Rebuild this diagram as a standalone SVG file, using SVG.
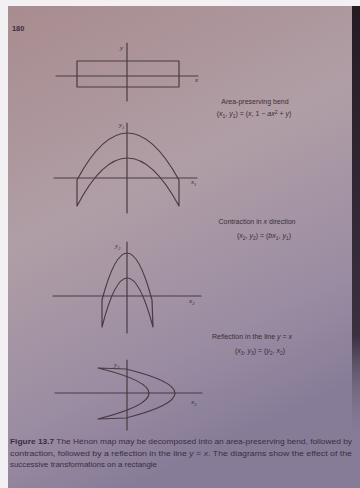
<svg xmlns="http://www.w3.org/2000/svg" width="360" height="488" viewBox="0 0 360 488">
<defs>
<linearGradient id="pg" x1="0" y1="0" x2="0.35" y2="1">
<stop offset="0" stop-color="#a88c8f"/>
<stop offset="0.45" stop-color="#b09ea6"/>
<stop offset="0.8" stop-color="#9a8ca2"/>
<stop offset="1" stop-color="#877c98"/>
</linearGradient>
<linearGradient id="rs" x1="0" y1="0" x2="0" y2="1">
<stop offset="0" stop-color="#251c22"/>
<stop offset="0.75" stop-color="#3a3040"/>
<stop offset="1" stop-color="#8a7f98" stop-opacity="0"/>
</linearGradient>
<style>
.ln{fill:none;stroke:#4a3a42;stroke-width:1.2;stroke-linecap:round;stroke-linejoin:round}
.t{font-family:"Liberation Sans",Arial,sans-serif;font-size:7px;fill:#3a2e36;text-anchor:middle}
.m{font-family:"Liberation Serif","Times New Roman",serif;font-style:italic;font-size:7px;fill:#3a2e36}
.c{font-family:"Liberation Sans",Arial,sans-serif;font-size:7.4px;fill:#3a2e40}
.s{font-size:5px}
</style>
</defs>
<rect x="0" y="0" width="360" height="488" fill="#f2f0f2"/>
<rect x="8" y="6" width="352" height="482" fill="url(#pg)"/>
<rect x="352" y="6" width="8" height="440" fill="url(#rs)"/>
<text x="12" y="31" class="c" font-weight="bold" font-size="6">180</text>

<g id="panel0">
<line class="ln" x1="56" y1="76" x2="198" y2="76"/>
<line class="ln" x1="127" y1="43" x2="127" y2="101"/>
<rect class="ln" x="77" y="61" width="102" height="26"/>
<text class="m" x="120" y="50">y</text>
<text class="m" x="195" y="82">x</text>
</g>
<g id="label1">
<text class="t" x="255" y="104">Area-preserving bend</text>
<text class="t" x="254" y="116">(<tspan font-style="italic">x</tspan><tspan class="s" dy="1.5">1</tspan><tspan dy="-1.5">, </tspan><tspan font-style="italic">y</tspan><tspan class="s" dy="1.5">1</tspan><tspan dy="-1.5">) = (</tspan><tspan font-style="italic">x</tspan>, 1 − <tspan font-style="italic">ax</tspan><tspan class="s" dy="-2.5">2</tspan><tspan dy="2.5"> + </tspan><tspan font-style="italic">y</tspan>)</text>
</g>

<g id="panel1">
<line class="ln" x1="54" y1="178" x2="197" y2="178"/>
<line class="ln" x1="127" y1="123" x2="127" y2="213"/>
<path class="ln" d="M77,180 Q127,86 179,180 L179,206 Q127,110 77,206 Z"/>
<text class="m" x="119" y="127">y<tspan class="s" dy="1.5">1</tspan></text>
<text class="m" x="191" y="184">x<tspan class="s" dy="1.5">1</tspan></text>
</g>
<g id="label2">
<text class="t" x="257" y="224">Contraction in <tspan font-style="italic">x</tspan> direction</text>
<text class="t" x="264" y="238">(<tspan font-style="italic">x</tspan><tspan class="s" dy="1.5">2</tspan><tspan dy="-1.5">, </tspan><tspan font-style="italic">y</tspan><tspan class="s" dy="1.5">2</tspan><tspan dy="-1.5">) = (</tspan><tspan font-style="italic">bx</tspan><tspan class="s" dy="1.5">1</tspan><tspan dy="-1.5">, </tspan><tspan font-style="italic">y</tspan><tspan class="s" dy="1.5">1</tspan><tspan dy="-1.5">)</tspan></text>
</g>

<g id="panel2">
<line class="ln" x1="53" y1="296" x2="201" y2="296"/>
<line class="ln" x1="127" y1="242" x2="127" y2="333"/>
<path class="ln" d="M102,300 Q127,206 152,300 L153,327 Q127,229 102,327 Z"/>
<text class="m" x="115" y="248">y<tspan class="s" dy="1.5">2</tspan></text>
<text class="m" x="189" y="303">x<tspan class="s" dy="1.5">2</tspan></text>
</g>
<g id="label3">
<text class="t" x="252" y="339">Reflection in the line <tspan font-style="italic">y</tspan> = <tspan font-style="italic">x</tspan></text>
<text class="t" x="260" y="353">(<tspan font-style="italic">x</tspan><tspan class="s" dy="1.5">3</tspan><tspan dy="-1.5">, </tspan><tspan font-style="italic">y</tspan><tspan class="s" dy="1.5">3</tspan><tspan dy="-1.5">) = (</tspan><tspan font-style="italic">y</tspan><tspan class="s" dy="1.5">2</tspan><tspan dy="-1.5">, </tspan><tspan font-style="italic">x</tspan><tspan class="s" dy="1.5">2</tspan><tspan dy="-1.5">)</tspan></text>
</g>

<g id="panel3">
<line class="ln" x1="55" y1="393" x2="202" y2="393"/>
<line class="ln" x1="127" y1="360" x2="127" y2="430"/>
<path class="ln" d="M98,368 L126,369 Q224,393 126,418 L98,419 Q200,393 98,368 Z"/>
<text class="m" x="114" y="367">y<tspan class="s" dy="1.5">3</tspan></text>
<text class="m" x="191" y="404">x<tspan class="s" dy="1.5">3</tspan></text>
</g>

<g id="caption">
<text class="c" x="10" y="444" textLength="342" lengthAdjust="spacingAndGlyphs"><tspan font-weight="bold">Figure 13.7</tspan> The Hénon map may be decomposed into an area-preserving bend, followed by</text>
<text class="c" x="10" y="456" textLength="342" lengthAdjust="spacingAndGlyphs">contraction, followed by a reflection in the line <tspan font-style="italic">y</tspan> = <tspan font-style="italic">x</tspan>. The diagrams show the effect of the</text>
<text class="c" x="10" y="467" textLength="147" lengthAdjust="spacingAndGlyphs">successive transformations on a rectangle</text>
</g>
</svg>
